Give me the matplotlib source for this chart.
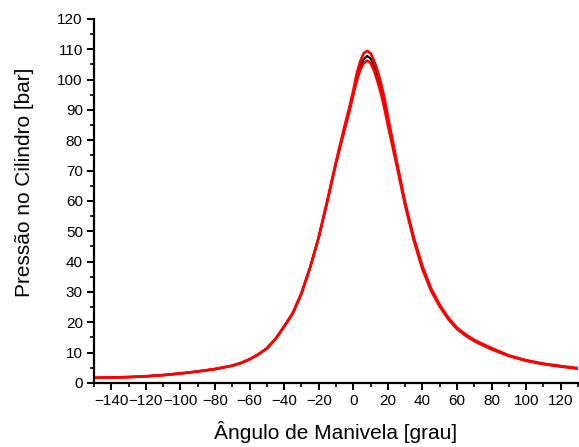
import matplotlib
matplotlib.use("Agg")
import matplotlib.pyplot as plt
from matplotlib.ticker import MultipleLocator

plt.rcParams['font.family'] = ['Liberation Sans', 'DejaVu Sans']

angle = [-150, -140, -130, -120, -110, -100, -90, -80, -70, -65, -60, -55, -50, -45, -40, -35,
         -30, -25, -20, -15, -10, -5, -2, 0, 2, 4, 6, 8, 10, 12, 14, 16, 18, 20,
         25, 30, 35, 40, 45, 50, 55, 60, 65, 70, 75, 80, 90, 100, 110, 120, 130]

p_black = [1.7, 1.8, 1.95, 2.2, 2.6, 3.15, 3.8, 4.6, 5.7, 6.6, 7.8, 9.4, 11.4, 14.5, 18.6, 23.0,
           29.5, 38.0, 48.0, 60.0, 72.5, 84.0, 90.5, 95.5, 100.5, 104.3, 106.7, 107.8, 107.0, 104.5, 101.0, 97.0, 92.0, 86.0,
           72.5, 59.0, 47.5, 38.0, 30.8, 25.5, 21.3, 18.0, 15.8, 14.0, 12.6, 11.3, 9.0, 7.4, 6.3, 5.5, 4.8]

p_red1 = [1.7, 1.8, 1.95, 2.2, 2.6, 3.15, 3.8, 4.6, 5.7, 6.6, 7.8, 9.4, 11.4, 14.5, 18.6, 23.0,
          29.5, 38.0, 48.0, 60.2, 73.0, 84.8, 91.5, 96.5, 102.0, 106.0, 108.7, 109.5, 108.7, 106.3, 103.0, 99.0, 94.0, 88.0,
          73.5, 59.5, 48.0, 38.5, 31.2, 25.8, 21.5, 18.2, 16.0, 14.2, 12.8, 11.5, 9.1, 7.5, 6.4, 5.6, 4.9]

p_red2 = [1.7, 1.8, 1.95, 2.2, 2.6, 3.15, 3.8, 4.6, 5.7, 6.6, 7.8, 9.4, 11.4, 14.5, 18.6, 23.0,
          29.5, 38.0, 48.0, 59.8, 72.3, 83.5, 90.0, 95.0, 99.5, 103.2, 105.4, 106.3, 105.5, 103.0, 99.5, 95.5, 90.5, 85.0,
          72.0, 58.5, 47.0, 37.5, 30.4, 25.2, 21.0, 17.8, 15.6, 13.8, 12.4, 11.1, 8.9, 7.3, 6.2, 5.4, 4.7]

x_label = "Ângulo de Manivela [grau]"
y_label = "Pressão no Cilindro [bar]"

fig = plt.figure(figsize=(5.79, 4.47), dpi=100)
ax = fig.add_axes([0.1623, 0.1432, 0.8360, 0.8143])

ax.plot(angle, p_black, color='black', lw=1.5)
ax.plot(angle, p_red2, color='red', lw=1.9)
ax.plot(angle, p_red1, color='red', lw=1.9)

ax.set_xlim(-150, 130)
ax.set_ylim(0, 120)
ax.xaxis.set_minor_locator(MultipleLocator(10))
ax.yaxis.set_major_locator(MultipleLocator(10))
ax.yaxis.set_minor_locator(MultipleLocator(5))
ax.set_xticks(list(range(-140, 131, 20)))

for s in ['top', 'right']:
    ax.spines[s].set_visible(False)
for s in ['left', 'bottom']:
    ax.spines[s].set_linewidth(1.6)

ax.tick_params(which='major', direction='out', length=5, width=1.4, labelsize=11, pad=3)
ax.tick_params(which='minor', direction='out', length=3, width=1.2)

ax.set_xlabel(x_label, fontsize=15, labelpad=9)
ax.set_ylabel(y_label, fontsize=15, labelpad=17)
ax.yaxis.label.set_y(0.55)

fig.savefig("out.png", dpi=100)
